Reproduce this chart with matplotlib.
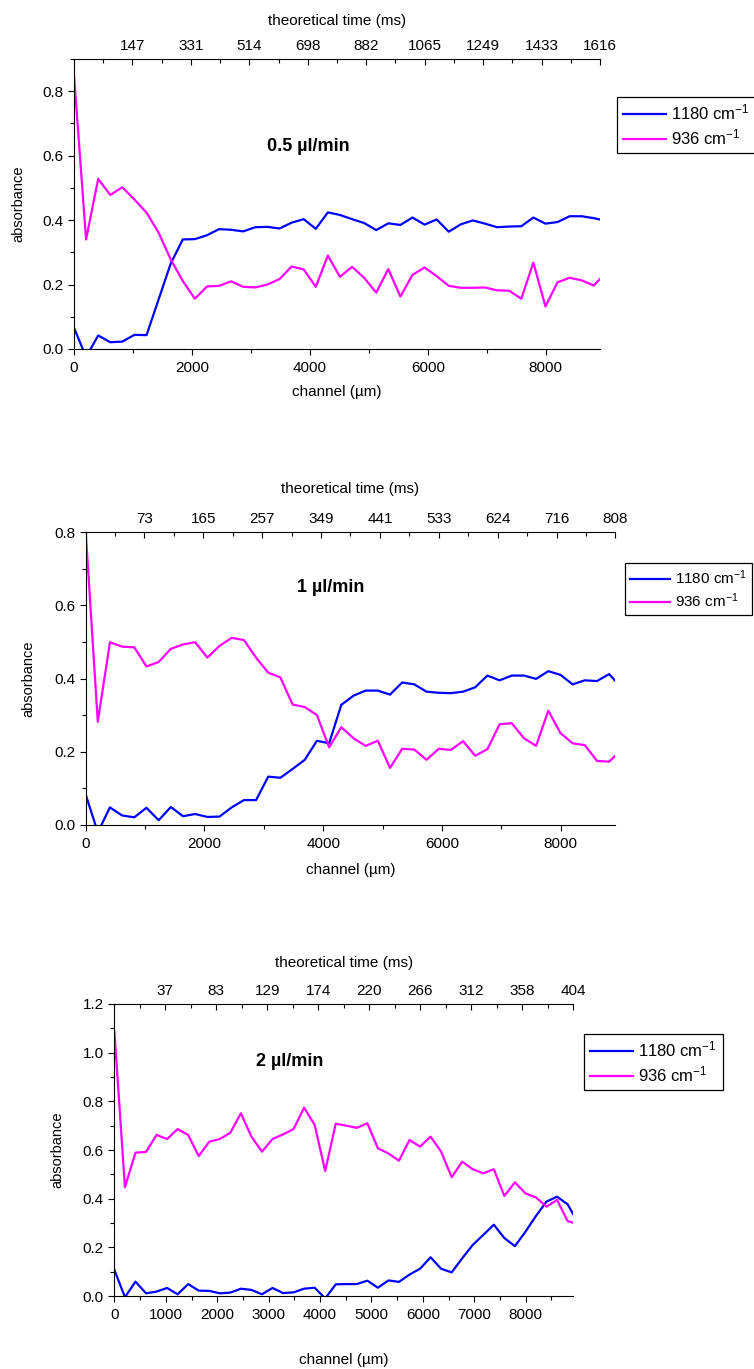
import matplotlib
matplotlib.use("Agg")
import matplotlib.pyplot as plt
from matplotlib.ticker import MultipleLocator, AutoMinorLocator, FormatStrFormatter, FixedLocator

plt.rcParams['font.family'] = ['Liberation Sans', 'DejaVu Sans']
plt.rcParams['mathtext.fontset'] = 'custom'
plt.rcParams['mathtext.rm'] = 'Liberation Sans'
plt.rcParams['mathtext.default'] = 'rm'

# channel position (µm) of every measured point
channel = [0, 205, 410, 615, 820, 1025, 1230, 1435, 1640, 1845, 2050, 2255, 2460,
           2665, 2870, 3075, 3280, 3485, 3690, 3895, 4100, 4305, 4510, 4715, 4920,
           5125, 5330, 5535, 5740, 5945, 6150, 6355, 6560, 6765, 6970, 7175, 7380,
           7585, 7790, 7995, 8200, 8405, 8610, 8815, 9020]

# 0.5 µl/min
blue_05 = [0.066, -0.025, 0.042, 0.021, 0.023, 0.044, 0.043, 0.154, 0.265, 0.34, 0.341,
           0.353, 0.372, 0.37, 0.365, 0.378, 0.379, 0.374, 0.392, 0.403, 0.373, 0.424,
           0.416, 0.403, 0.391, 0.369, 0.39, 0.385, 0.408, 0.386, 0.402, 0.364, 0.387,
           0.399, 0.389, 0.378, 0.38, 0.381, 0.408, 0.389, 0.394, 0.412, 0.412, 0.406, 0.398]
mag_05 = [0.85, 0.34, 0.528, 0.478, 0.502, 0.464, 0.423, 0.361, 0.278, 0.211, 0.156,
          0.194, 0.196, 0.21, 0.193, 0.191, 0.2, 0.217, 0.256, 0.247, 0.193, 0.29,
          0.224, 0.255, 0.221, 0.175, 0.248, 0.163, 0.23, 0.253, 0.226, 0.196, 0.19,
          0.19, 0.191, 0.182, 0.181, 0.156, 0.268, 0.132, 0.207, 0.221, 0.213, 0.197, 0.237]

# 1 µl/min
blue_1 = [0.084, -0.02, 0.048, 0.026, 0.021, 0.047, 0.013, 0.049, 0.024, 0.03, 0.022,
          0.023, 0.048, 0.068, 0.068, 0.132, 0.129, 0.153, 0.178, 0.23, 0.223, 0.328,
          0.353, 0.367, 0.367, 0.356, 0.389, 0.384, 0.364, 0.361, 0.36, 0.364, 0.376,
          0.408, 0.395, 0.408, 0.408, 0.399, 0.42, 0.41, 0.384, 0.395, 0.393, 0.412, 0.375]
mag_1 = [0.805, 0.282, 0.499, 0.487, 0.485, 0.433, 0.445, 0.481, 0.493, 0.499, 0.457,
         0.489, 0.511, 0.505, 0.457, 0.416, 0.403, 0.329, 0.322, 0.3, 0.212, 0.267,
         0.237, 0.216, 0.23, 0.156, 0.208, 0.206, 0.178, 0.208, 0.205, 0.229, 0.189,
         0.207, 0.275, 0.278, 0.237, 0.216, 0.312, 0.251, 0.223, 0.218, 0.175, 0.173, 0.205]

# 2 µl/min
blue_2 = [0.107, -0.005, 0.059, 0.011, 0.018, 0.033, 0.007, 0.049, 0.022, 0.021, 0.011,
          0.014, 0.03, 0.025, 0.007, 0.033, 0.012, 0.015, 0.03, 0.034, -0.01, 0.048,
          0.049, 0.049, 0.063, 0.034, 0.064, 0.058, 0.088, 0.112, 0.159, 0.112, 0.097,
          0.155, 0.21, 0.251, 0.293, 0.238, 0.205, 0.264, 0.329, 0.388, 0.408, 0.377, 0.3]
mag_2 = [1.086, 0.447, 0.589, 0.592, 0.662, 0.645, 0.686, 0.662, 0.575, 0.634, 0.645,
         0.671, 0.751, 0.655, 0.593, 0.645, 0.664, 0.686, 0.774, 0.703, 0.514, 0.708,
         0.700, 0.691, 0.71, 0.607, 0.586, 0.556, 0.641, 0.614, 0.655, 0.593, 0.488,
         0.552, 0.521, 0.504, 0.521, 0.411, 0.467, 0.422, 0.405, 0.367, 0.395, 0.308, 0.295]

# theoretical time tick labels (ms)
time_05 = [147, 331, 514, 698, 882, 1065, 1249, 1433, 1616]
time_1 = [73, 165, 257, 349, 441, 533, 624, 716, 808]
time_2 = [37, 83, 129, 174, 220, 266, 312, 358, 404]

labels = ['1180 cm$^{-1}$', '936 cm$^{-1}$']
BLUE = '#0000ff'
MAGENTA = '#ff00ff'

W, H = 754, 1369
fig = plt.figure(figsize=(W / 100, H / 100), dpi=100)


def px_rect(l, r, t, b):
    return [l / W, 1 - b / H, (r - l) / W, (b - t) / H]


def panel(box, blue, mag, ylim, xmajor, xminor, times, title, title_xy,
          leg_xy, leg_size, xlab_y, tlab_y, ylab_x):
    ax = fig.add_axes(px_rect(*box))
    ax.plot(channel, blue, color=BLUE, lw=1.6, label=labels[0])
    ax.plot(channel, mag, color=MAGENTA, lw=1.6, label=labels[1])
    ax.set_xlim(0, 8920)
    ax.set_ylim(*ylim)
    ax.xaxis.set_major_locator(MultipleLocator(xmajor))
    ax.xaxis.set_minor_locator(MultipleLocator(xminor))
    ax.yaxis.set_major_locator(MultipleLocator(0.2))
    ax.yaxis.set_minor_locator(MultipleLocator(0.1))
    ax.yaxis.set_major_formatter(FormatStrFormatter('%.1f'))
    ax.tick_params(which='both', direction='out', labelsize=11, width=0.8)
    ax.tick_params(which='major', length=4.5)
    ax.tick_params(which='minor', length=3)
    ax.tick_params(axis='x', pad=4)
    ax.tick_params(axis='y', pad=3)
    for s in ['right', 'top']:
        ax.spines[s].set_visible(False)
    for s in ['left', 'bottom']:
        ax.spines[s].set_linewidth(0.8)

    ax.set_xlabel('channel (\u00b5m)', fontsize=11)
    ax.xaxis.set_label_coords(0.5, xlab_y)
    ax.xaxis.label.set_va('center')
    ax.set_ylabel('absorbance', fontsize=10.5)
    ax.yaxis.set_label_coords(ylab_x, 0.5)
    ax.yaxis.label.set_va('center')

    ax.text(title_xy[0], title_xy[1], title, fontsize=13, fontweight='bold',
            ha='center', va='center')

    # top axis: theoretical time
    top = ax.twiny()
    step = (times[-1] - times[0]) / (len(times) - 1)
    top.set_xlim(times[0] - step, times[-1])
    top.xaxis.set_major_locator(FixedLocator([times[0] + k * step for k in range(len(times))]))
    top.set_xticklabels([str(t) for t in times])
    top.xaxis.set_minor_locator(AutoMinorLocator(2))
    top.tick_params(which='both', direction='in', labelsize=11, width=0.8, pad=4.5)
    top.tick_params(which='major', length=4.5)
    top.tick_params(which='minor', length=3)
    for s in ['right', 'left', 'bottom']:
        top.spines[s].set_visible(False)
    top.spines['top'].set_linewidth(0.8)
    top.set_xlabel('theoretical time (ms)', fontsize=11)
    top.xaxis.set_label_coords(0.5, tlab_y)
    top.xaxis.label.set_va('center')

    leg = ax.legend(loc='upper left', bbox_to_anchor=(leg_xy[0] / W, 1 - leg_xy[1] / H),
                    bbox_transform=fig.transFigure, borderaxespad=0, fontsize=leg_size,
                    frameon=True, fancybox=False, edgecolor='black', framealpha=1,
                    handlelength=2.6, handletextpad=0.3, borderpad=0.35, labelspacing=0.3)
    leg.get_frame().set_linewidth(0.9)
    return ax


panel((74, 600, 59, 349), blue_05, mag_05, (0, 0.9), 2000, 1000, time_05,
      '0.5 \u00b5l/min', (3970, 0.628), (617, 97), 12, -0.147, 1.132, -0.1065)
panel((85.6, 615.4, 532, 825), blue_1, mag_1, (0, 0.8), 2000, 1000, time_1,
      '1 \u00b5l/min', (4120, 0.649), (625, 563), 11, -0.154, 1.146, -0.1087)
panel((114.4, 573, 1004, 1296), blue_2, mag_2, (0, 1.2), 1000, 500, time_2,
      '2 \u00b5l/min', (3414, 0.963), (584, 1034), 12, -0.219, 1.141, -0.125)

fig.savefig('out.png', dpi=100)
